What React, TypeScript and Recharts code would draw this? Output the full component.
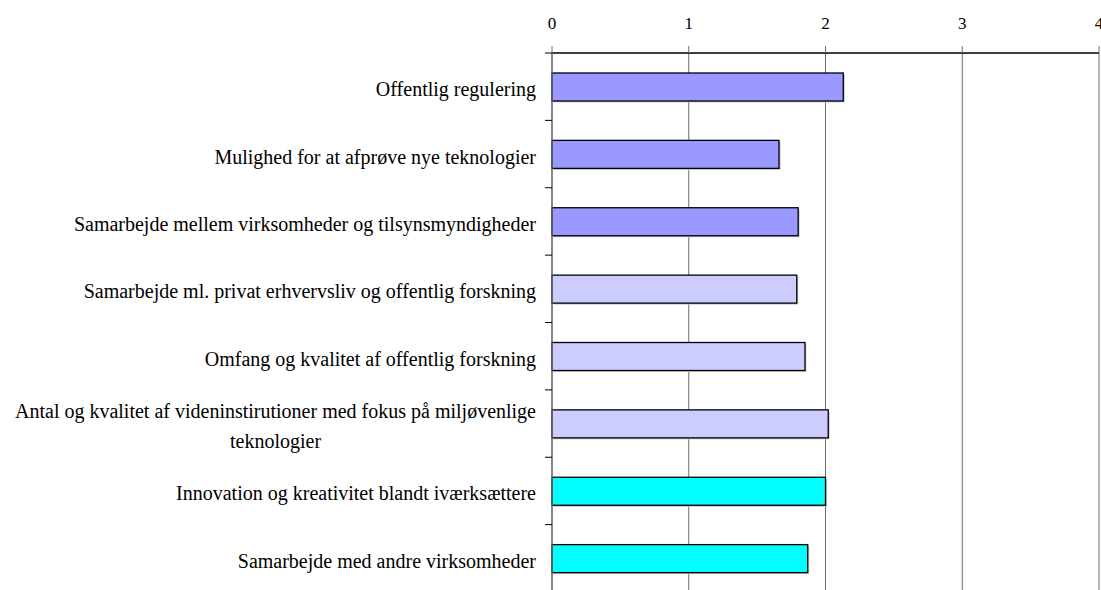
import React from 'react';
import { BarChart, Bar, XAxis, YAxis, CartesianGrid, Cell } from 'recharts';

const categories: string[] = [
  'Offentlig regulering',
  'Mulighed for at afprøve nye teknologier',
  'Samarbejde mellem virksomheder og tilsynsmyndigheder',
  'Samarbejde ml. privat erhvervsliv og offentlig forskning',
  'Omfang og kvalitet af offentlig forskning',
  'Antal og kvalitet af videninstirutioner med fokus på miljøvenlige\nteknologier',
  'Innovation og kreativitet blandt iværksættere',
  'Samarbejde med andre virksomheder',
];
const values: number[] = [2.13, 1.66, 1.8, 1.79, 1.85, 2.02, 2.0, 1.87];
const barColors: string[] = ['#9999FF', '#9999FF', '#9999FF', '#CCCCFF', '#CCCCFF', '#CCCCFF', '#00FFFF', '#00FFFF'];
const xTicks: number[] = [0, 1, 2, 3, 4];

const data = categories.map((name, i) => ({ name, value: values[i] }));

const FONT = '"Liberation Serif", "Times New Roman", serif';
const CAT_SIZE = 20;
const CHART_W = 1101;
const CHART_H = 600;
const TOP = 53;
const BOTTOM = 8;
const BAND = (CHART_H - TOP - BOTTOM) / categories.length;

let ctx: CanvasRenderingContext2D | null = null;
function measure(t: string): number {
  if (!ctx) ctx = document.createElement('canvas').getContext('2d');
  if (!ctx) return t.length * 9;
  ctx.font = `${CAT_SIZE}px ${FONT}`;
  return ctx.measureText(t).width;
}

function CatTick(props: any) {
  const { x, y, payload } = props;
  const lines = String(payload.value).split('\n');
  const axisX = x + 16;
  const boundaryY = y - BAND / 2;
  const lineH = 30;
  let texts: React.ReactNode;
  if (lines.length === 1) {
    texts = (
      <text x={x} y={y + 9.5} textAnchor="end" fontSize={CAT_SIZE} fontFamily={FONT} fill="#000">
        {lines[0]}
      </text>
    );
  } else {
    const w = Math.max(...lines.map(measure));
    const cx = x - w / 2;
    const start = y + 9.5 - ((lines.length - 1) * lineH) / 2;
    texts = lines.map((l, i) => (
      <text key={i} x={cx} y={start + i * lineH} textAnchor="middle" fontSize={CAT_SIZE} fontFamily={FONT} fill="#000">
        {l}
      </text>
    ));
  }
  return (
    <g>
      <line x1={axisX - 7} x2={axisX} y1={boundaryY} y2={boundaryY} stroke="#000" strokeWidth={1} />
      {texts}
    </g>
  );
}

function ShadowBar(props: any) {
  const { x, y, width, height, fill } = props;
  if (width == null || height == null) return null;
  return (
    <g>
      <rect x={x + 1.5} y={y + 1.5} width={width} height={height} fill="#c8c8c8" />
      <rect x={x} y={y} width={width} height={height} fill={fill} stroke="#000" strokeWidth={1.3} />
    </g>
  );
}

export default function App() {
  return (
    <div style={{ position: 'fixed', left: 0, top: 0, width: CHART_W, height: 590, overflow: 'hidden', background: '#fff' }}>
      <BarChart
        width={CHART_W}
        height={CHART_H}
        data={data}
        layout="vertical"
        margin={{ top: 0, right: 2, left: 0, bottom: BOTTOM }}
      >
        <CartesianGrid horizontal={false} vertical={true} stroke="#6e6e6e" strokeWidth={1} />
        <XAxis
          type="number"
          orientation="top"
          domain={[0, 4]}
          ticks={xTicks}
          interval={0}
          height={TOP}
          tickSize={7}
          tickMargin={17}
          axisLine={{ stroke: '#000', strokeWidth: 1.3 }}
          tickLine={{ stroke: '#6e6e6e' }}
          tick={{ fontSize: 17, fontFamily: FONT, fill: '#000' }}
        />
        <YAxis
          type="category"
          dataKey="name"
          width={552}
          interval={0}
          tickLine={false}
          tickSize={0}
          tickMargin={16}
          axisLine={{ stroke: '#6e6e6e', strokeWidth: 1.3 }}
          tick={<CatTick />}
        />
        <Bar dataKey="value" barSize={28} isAnimationActive={false} shape={<ShadowBar />}>
          {data.map((d, i) => (
            <Cell key={d.name} fill={barColors[i]} />
          ))}
        </Bar>
      </BarChart>
    </div>
  );
}
